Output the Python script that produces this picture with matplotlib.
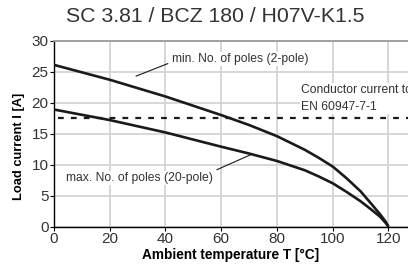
import matplotlib
matplotlib.use("Agg")
import matplotlib.pyplot as plt

plt.rcParams['font.family'] = ['Liberation Sans', 'DejaVu Sans']

# derating curves
temp_min = [0, 20, 40, 60, 70, 80, 90, 95, 100, 105, 110, 114, 117, 119, 120]
load_min = [26.1, 23.7, 21.0, 18.0, 16.4, 14.6, 12.4, 11.1, 9.7, 7.8, 5.7, 3.6, 2.0, 0.8, 0.0]
temp_max = [0, 20, 40, 60, 70, 80, 90, 95, 100, 105, 110, 114, 117, 119, 120]
load_max = [18.9, 17.2, 15.2, 12.9, 11.8, 10.6, 9.1, 8.1, 7.0, 5.6, 4.1, 2.7, 1.6, 0.6, 0.0]
conductor_current = 17.5

title = "SC 3.81 / BCZ 180 / H07V-K1.5"
xticks = [0, 20, 40, 60, 80, 100, 120]
yticks = [0, 5, 10, 15, 20, 25, 30]

dpi = 100.0
fig = plt.figure(figsize=(408 / dpi, 273 / dpi), dpi=dpi)
ax = fig.add_axes([54 / 408, 1 - 226.7 / 273, 1 - 54 / 408, (226.7 - 40.7) / 273])

ax.set_xlim(0, 127)
ax.set_ylim(0, 30)
ax.set_xticks(xticks)
ax.set_yticks(yticks)
ax.grid(True, color="#d4d4d4", linewidth=1.3, zorder=0)
ax.set_axisbelow(True)

ax.spines["right"].set_visible(False)
ax.spines["top"].set_color("#9a9a9a")
ax.spines["top"].set_linewidth(1.3)
ax.spines["left"].set_linewidth(1.0)
ax.spines["bottom"].set_linewidth(1.0)
ax.tick_params(direction="out", length=3, width=0.8, labelsize=11, pad=1, colors="black")
for lab in ax.get_xticklabels() + ax.get_yticklabels():
    lab.set_color("#333333")

ax.plot(temp_min, load_min, color="#1a1a1a", linewidth=1.9, zorder=3,
        solid_capstyle="butt", solid_joinstyle="round")
ax.plot(temp_max, load_max, color="#1a1a1a", linewidth=1.9, zorder=3,
        solid_capstyle="butt", solid_joinstyle="round")
ax.plot([1.5, 127], [conductor_current, conductor_current], color="#1a1a1a",
        linewidth=1.6, dashes=(2.6, 3.2), zorder=3)

bg = dict(facecolor="white", edgecolor="none", pad=0.6)
ax.text(42.5, 27.1, "min. No. of poles (2-pole)", fontsize=8.7, color="#333333",
        va="center", ha="left", bbox=bg, zorder=4)
ax.plot([29.5, 40.8], [24.3, 26.3], color="#1a1a1a", linewidth=0.8, zorder=4)

ax.text(4.3, 7.9, "max. No. of poles (20-pole)", fontsize=8.7, color="#333333",
        va="center", ha="left", bbox=bg, zorder=4)
ax.plot([58.5, 70.5], [9.2, 11.6], color="#1a1a1a", linewidth=0.8, zorder=4)

# text runs off the right edge in the reference too
ax.text(88.7, 20.7, "Conductor current to\nEN 60947-7-1", fontsize=8.7, color="#333333",
        va="center", ha="left", linespacing=1.55, bbox=bg, zorder=4, clip_on=False)

ax.set_xlabel("Ambient temperature T [°C]", fontsize=9.8, fontweight="bold", labelpad=1)
ax.set_ylabel("Load current I [A]", fontsize=9.3, fontweight="bold")
ax.yaxis.set_label_coords(-0.082, 0.43)

fig.text(215 / 408, 1 - 17 / 273, title, fontsize=15.3, color="#333333", ha="center", va="center")

fig.savefig("out.png", dpi=dpi)
